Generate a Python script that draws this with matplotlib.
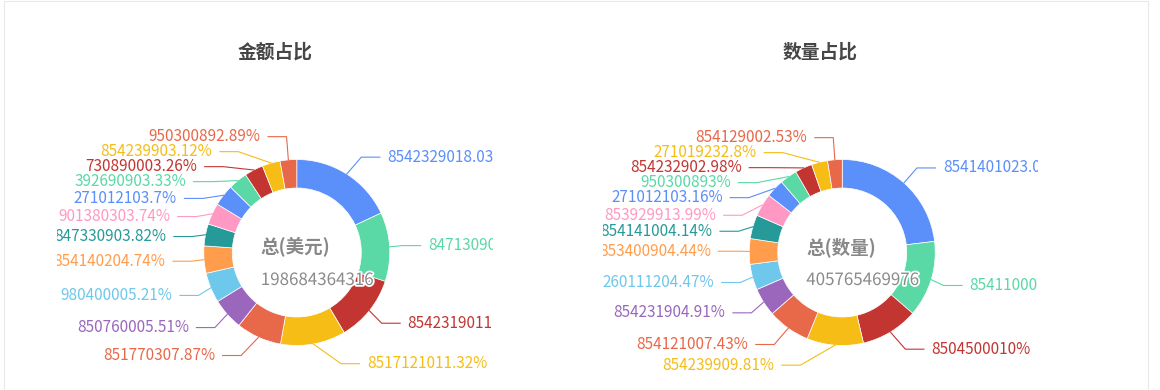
import math
import matplotlib
matplotlib.use('Agg')
import matplotlib.pyplot as plt
import matplotlib.patheffects as pe
from matplotlib.patches import Rectangle

plt.rcParams['font.family'] = ['Noto Sans CJK SC', 'DejaVu Sans']

# ---------------- data ----------------
palette = ['#5B8FF9', '#5AD8A6', '#C23531', '#F6BD16', '#E8684A',
           '#9A67BD', '#6DC8EC', '#FF9D4D', '#269A99', '#FF99C3']

amount_title = '金额占比'
amount_center = '总(美元)'
amount_total = '198684364316'
amount_codes = ['85423290', '84713090', '85423190', '85171210', '85177030',
                '85076000', '98040000', '85414020', '84733090', '90138030',
                '27101210', '39269090', '73089000', '85423990', '95030089']
amount_pct = [18.03, 12.0, 11.46, 11.32, 7.87, 5.51, 5.21, 4.74, 3.82, 3.74,
              3.7, 3.33, 3.26, 3.12, 2.89]

qty_title = '数量占比'
qty_center = '总(数量)'
qty_total = '405765469976'
qty_codes = ['85414010', '85411000', '85045000', '85423990', '85412100',
             '85423190', '26011120', '85340090', '85414100', '85392991',
             '27101210', '95030089', '85423290', '27101923', '85412900']
qty_pct = [23.09, 13.25, 10.0, 9.81, 7.43, 4.91, 4.47, 4.44, 4.14, 3.99,
           3.16, 3.0, 2.98, 2.8, 2.53]

# ---------------- layout ----------------
W, H = 1160, 390
DPI = 100
R_OUT, R_IN = 93, 64.5
LEN1, LEN2, LDIST, LABEL_H = 20, 18.5, 7.5, 15
CY = 252.5
LABEL_FS = 11
regions = [(57, 493), (603, 1038)]


def fmt_pct(v):
    s = f'{v:.2f}'.rstrip('0').rstrip('.')
    return s + '%'


def adjust_side(items, cx, cy, r, d, top=0.0, height=float(H)):
    items.sort(key=lambda it: it['y'])
    n = len(items)

    def shift_up(end, delta):
        for j in range(end, -1, -1):
            if items[j]['y'] - delta < top:
                break
            items[j]['y'] -= delta
            if j > 0 and items[j]['y'] > items[j - 1]['y'] + LABEL_H:
                break

    def shift_down(start, end, delta):
        for j in range(start, end):
            if items[j]['y'] + delta > top + height:
                break
            items[j]['y'] += delta
            if j > start and j + 1 < end and items[j + 1]['y'] > items[j]['y'] + LABEL_H:
                shift_up(j, delta / 2)
                return
        shift_up(end - 1, delta / 2)

    last = 0
    for i in range(n):
        delta = items[i]['y'] - last
        if delta < 0:
            shift_down(i, n, -delta)
        last = items[i]['y'] + LABEL_H
    if height - last < 0:
        shift_up(n - 1, last - height)

    up = [it for it in items if it['y'] < cy]
    down = [it for it in items if it['y'] >= cy]
    for lst, is_down in ((up, False), (down, True)):
        last_dx = float('inf') if is_down else 0.0
        for it in lst:
            dy = abs(it['y'] - cy)
            if dy < r + LEN1:
                dx = math.sqrt((r + LEN1 + LEN2) ** 2 - dy ** 2)
            else:
                dx = abs(it['x'] - cx)
            if is_down and dx >= last_dx:
                dx = last_dx - 10
            if (not is_down) and dx <= last_dx:
                dx = last_dx + 10
            it['x'] = cx + dx * d
            last_dx = dx


def draw_chart(ax, x0, x1, title, center_txt, total, codes, pct):
    width = x1 - x0
    cx = x0 + 0.55 * width
    cy = CY
    ax.set_position([x0 / W, 0, width / W, 1])
    wedges, _ = ax.pie(pct, colors=[palette[i % len(palette)] for i in range(len(pct))],
                       startangle=90, counterclock=False, radius=R_OUT,
                       center=(cx, H - cy), frame=True,
                       wedgeprops=dict(width=R_OUT - R_IN, edgecolor='white', linewidth=0.5))
    ax.set_xlim(x0, x1)
    ax.set_ylim(0, H)
    ax.set_aspect('auto')
    ax.set_axis_off()

    items = []
    for i, w in enumerate(wedges):
        th = math.radians((w.theta1 + w.theta2) / 2)
        dxu, dyu = math.cos(th), -math.sin(th)
        x1p, y1p = cx + R_OUT * dxu, cy + R_OUT * dyu
        x2p, y2p = x1p + LEN1 * dxu, y1p + LEN1 * dyu
        d = -1 if dxu < 0 else 1
        x3p = x2p + d * LEN2
        items.append(dict(i=i, d=d, x1=x1p, y1=y1p, x=x3p + d * LDIST, y=y2p,
                          color=w.get_facecolor()))
    left = [it for it in items if it['d'] < 0]
    right = [it for it in items if it['d'] > 0]
    adjust_side(left, cx, cy, R_OUT, -1)
    adjust_side(right, cx, cy, R_OUT, 1)

    for it in left + right:
        d = it['d']
        end = it['x'] - d * LDIST
        elbow = end - d * LEN2
        ys = [H - it['y1'], H - it['y'], H - it['y']]
        ax.plot([it['x1'], elbow, end], ys, color=it['color'], lw=0.8,
                solid_joinstyle='miter', clip_on=True, zorder=1)
        ax.text(it['x'], H - it['y'], codes[it['i']] + fmt_pct(pct[it['i']]),
                ha='right' if d < 0 else 'left', va='center',
                fontsize=LABEL_FS, color=it['color'], clip_on=True, zorder=3)

    ax.text(x0 + width / 2, H - 52.5, title, ha='center', va='center',
            fontsize=13.5, fontweight='bold', color='#464646', clip_on=True)
    ax.text(cx - 36, H - 247, center_txt, ha='left', va='center',
            fontsize=13.3, fontweight='bold', color='#888888', zorder=4, clip_on=True)
    ax.text(cx - 36, H - 280, total, ha='left', va='center',
            fontsize=12.2, color='#8a8a8a', zorder=4, clip_on=True,
            path_effects=[pe.withStroke(linewidth=2.5, foreground='white')])


fig = plt.figure(figsize=(W / DPI, H / DPI), dpi=DPI)
fig.patch.set_facecolor('white')
ax1 = fig.add_axes([0, 0, 1, 1])
ax2 = fig.add_axes([0, 0, 1, 1])
draw_chart(ax1, regions[0][0], regions[0][1], amount_title, amount_center, amount_total,
           amount_codes, amount_pct)
draw_chart(ax2, regions[1][0], regions[1][1], qty_title, qty_center, qty_total,
           qty_codes, qty_pct)

fig.add_artist(Rectangle((3.5 / W, -0.1), (1148 - 3.5) / W, (H - 1.5) / H + 0.1,
                         transform=fig.transFigure, fill=False,
                         edgecolor='#e8e8e8', lw=0.8))

fig.savefig('out.png', dpi=DPI, facecolor='white')
